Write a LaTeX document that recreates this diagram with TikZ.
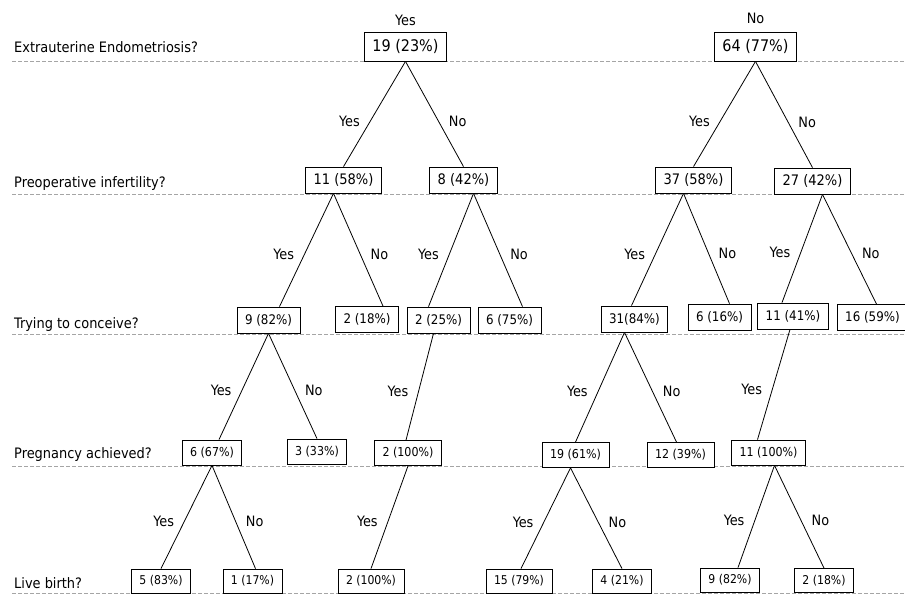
\documentclass[tikz,border=0pt]{standalone}
\usepackage{fontspec}
\setmainfont{DejaVu Sans Condensed}
\usepackage{xcolor}
\usetikzlibrary{positioning}
\definecolor{rulegray}{RGB}{165, 165, 165}

\begin{document}
\begin{tikzpicture}[
    x=1pt, y=-1pt,
    box/.style={rectangle, draw=black, fill=white, line width=0.8pt, inner xsep=8pt, inner ysep=0pt},
    lvlA/.style={box, font=\fontsize{16}{18}\selectfont, minimum height=29pt},
    lvlB/.style={box, font=\fontsize{14.5}{16}\selectfont, minimum height=26pt},
    lvlC/.style={box, font=\fontsize{13.2}{15}\selectfont, minimum height=26pt},
    lvlD/.style={box, font=\fontsize{12.3}{14}\selectfont, minimum height=25pt},
    lvlE/.style={box, font=\fontsize{12.1}{14}\selectfont, minimum height=24pt},
    lab/.style={font=\fontsize{14.3}{16}\selectfont, inner sep=0pt},
    question/.style={lab, font=\fontsize{14.4}{16}\selectfont, anchor=base west},
    yes/.style={lab, pos=0.54, anchor=east, xshift=-10pt},
    no/.style={lab, pos=0.54, anchor=west, xshift=10pt},
    edge/.style={line width=0.8pt},
    level/.style={rulegray, line width=0.8pt, dash pattern=on 4pt off 2pt}
]
    \useasboundingbox (0, 0) rectangle (905, 594);

    % level rules
    \foreach \y in {61, 194, 334, 466, 593}
        \draw[level] (12, \y) -- (905, \y);

    % questions
    \node[question] (qEndo) at (14, 53) {Extrauterine Endometriosis?};
    \node[question] (qInf) at (14, 187) {Preoperative infertility?};
    \node[question] (qTry) at (14, 328) {Trying to conceive?};
    \node[question] (qPreg) at (14, 458) {Pregnancy achieved?};
    \node[question] (qLive) at (14, 588) {Live birth?};

    % root
    \node[lvlA] (endoY) at (405.5, 46.5) {19 (23\%)};
    \node[lvlA] (endoN) at (755.5, 46.5) {64 (77\%)};
    \node[lab, above=6pt of endoY] (topY) {Yes};
    \node[lab, above=8pt of endoN] (topN) {No};

    % infertility
    \node[lvlB] (infA) at (343.5, 180) {11 (58\%)};
    \node[lvlB] (infB) at (463.5, 180) {8 (42\%)};
    \node[lvlB] (infC) at (693.5, 180) {37 (58\%)};
    \node[lvlB] (infD) at (812.5, 181) {27 (42\%)};

    % trying to conceive
    \node[lvlC] (tryA) at (268.5, 320) {9 (82\%)};
    \node[lvlC] (tryB) at (367, 319.5) {2 (18\%)};
    \node[lvlC] (tryC) at (438.5, 320) {2 (25\%)};
    \node[lvlC] (tryD) at (509.5, 320) {6 (75\%)};
    \node[lvlC] (tryE) at (634.5, 319) {31(84\%)};
    \node[lvlC] (tryF) at (719.5, 317) {6 (16\%)};
    \node[lvlC] (tryG) at (793, 316) {11 (41\%)};
    \node[lvlC] (tryH) at (872.5, 317.5) {16 (59\%)};

    % pregnancy
    \node[lvlD] (pregA) at (212, 452.5) {6 (67\%)};
    \node[lvlD] (pregB) at (317, 451.5) {3 (33\%)};
    \node[lvlD] (pregC) at (408, 453) {2 (100\%)};
    \node[lvlD] (pregD) at (575.5, 455) {19 (61\%)};
    \node[lvlD] (pregE) at (680.5, 455) {12 (39\%)};
    \node[lvlD] (pregF) at (768.5, 452.5) {11 (100\%)};

    % live birth
    \node[lvlE] (liveA) at (161, 581) {5 (83\%)};
    \node[lvlE] (liveB) at (252.5, 581) {1 (17\%)};
    \node[lvlE] (liveC) at (371, 581) {2 (100\%)};
    \node[lvlE] (liveD) at (519, 581) {15 (79\%)};
    \node[lvlE] (liveE) at (622, 581) {4 (21\%)};
    \node[lvlE] (liveF) at (730, 580) {9 (82\%)};
    \node[lvlE] (liveG) at (824, 580.5) {2 (18\%)};

    % branches
    \draw[edge] (endoY.south) -- (infA.north) node[yes, pos=0.57] {Yes};
    \draw[edge] (endoY.south) -- (infB.north) node[no, pos=0.57] {No};
    \draw[edge] (endoN.south) -- (infC.north) node[yes, pos=0.57] {Yes};
    \draw[edge] (endoN.south) -- (infD.north) node[no, pos=0.57] {No};

    \draw[edge] ([xshift=-10pt]infA.south) -- ([xshift=11pt]tryA.north) node[yes] {Yes};
    \draw[edge] ([xshift=-10pt]infA.south) -- ([xshift=16pt]tryB.north) node[no] {No};
    \draw[edge] ([xshift=10pt]infB.south) -- ([xshift=-10pt]tryC.north) node[yes] {Yes};
    \draw[edge] ([xshift=10pt]infB.south) -- ([xshift=13pt]tryD.north) node[no] {No};
    \draw[edge] ([xshift=-10pt]infC.south) -- ([xshift=-3pt]tryE.north) node[yes] {Yes};
    \draw[edge] ([xshift=-10pt]infC.south) -- ([xshift=10pt]tryF.north) node[no] {No};
    \draw[edge] ([xshift=10pt]infD.south) -- ([xshift=-11pt]tryG.north) node[yes] {Yes};
    \draw[edge] ([xshift=10pt]infD.south) -- ([xshift=4pt]tryH.north) node[no] {No};

    \draw[edge] (tryA.south) -- ([xshift=7pt]pregA.north) node[yes] {Yes};
    \draw[edge] (tryA.south) -- (pregB.north) node[no] {No};
    \draw[edge] ([xshift=-5pt]tryC.south) -- ([xshift=-2pt]pregC.north) node[yes] {Yes};
    \draw[edge] ([xshift=-10pt]tryE.south) -- (pregD.north) node[yes] {Yes};
    \draw[edge] ([xshift=-10pt]tryE.south) -- ([xshift=-4pt]pregE.north) node[no] {No};
    \draw[edge] ([xshift=-3pt]tryG.south) -- ([xshift=-11pt]pregF.north) node[yes] {Yes};

    \draw[edge] (pregA.south) -- (liveA.north) node[yes] {Yes};
    \draw[edge] (pregA.south) -- ([xshift=3pt]liveB.north) node[no] {No};
    \draw[edge] (pregC.south) -- (liveC.north) node[yes] {Yes};
    \draw[edge] ([xshift=-5pt]pregD.south) -- ([xshift=2pt]liveD.north) node[yes] {Yes};
    \draw[edge] ([xshift=-5pt]pregD.south) -- (liveE.north) node[no] {No};
    \draw[edge] ([xshift=6pt]pregF.south) -- ([xshift=8pt]liveF.north) node[yes] {Yes};
    \draw[edge] ([xshift=6pt]pregF.south) -- (liveG.north) node[no] {No};
\end{tikzpicture}
\end{document}
